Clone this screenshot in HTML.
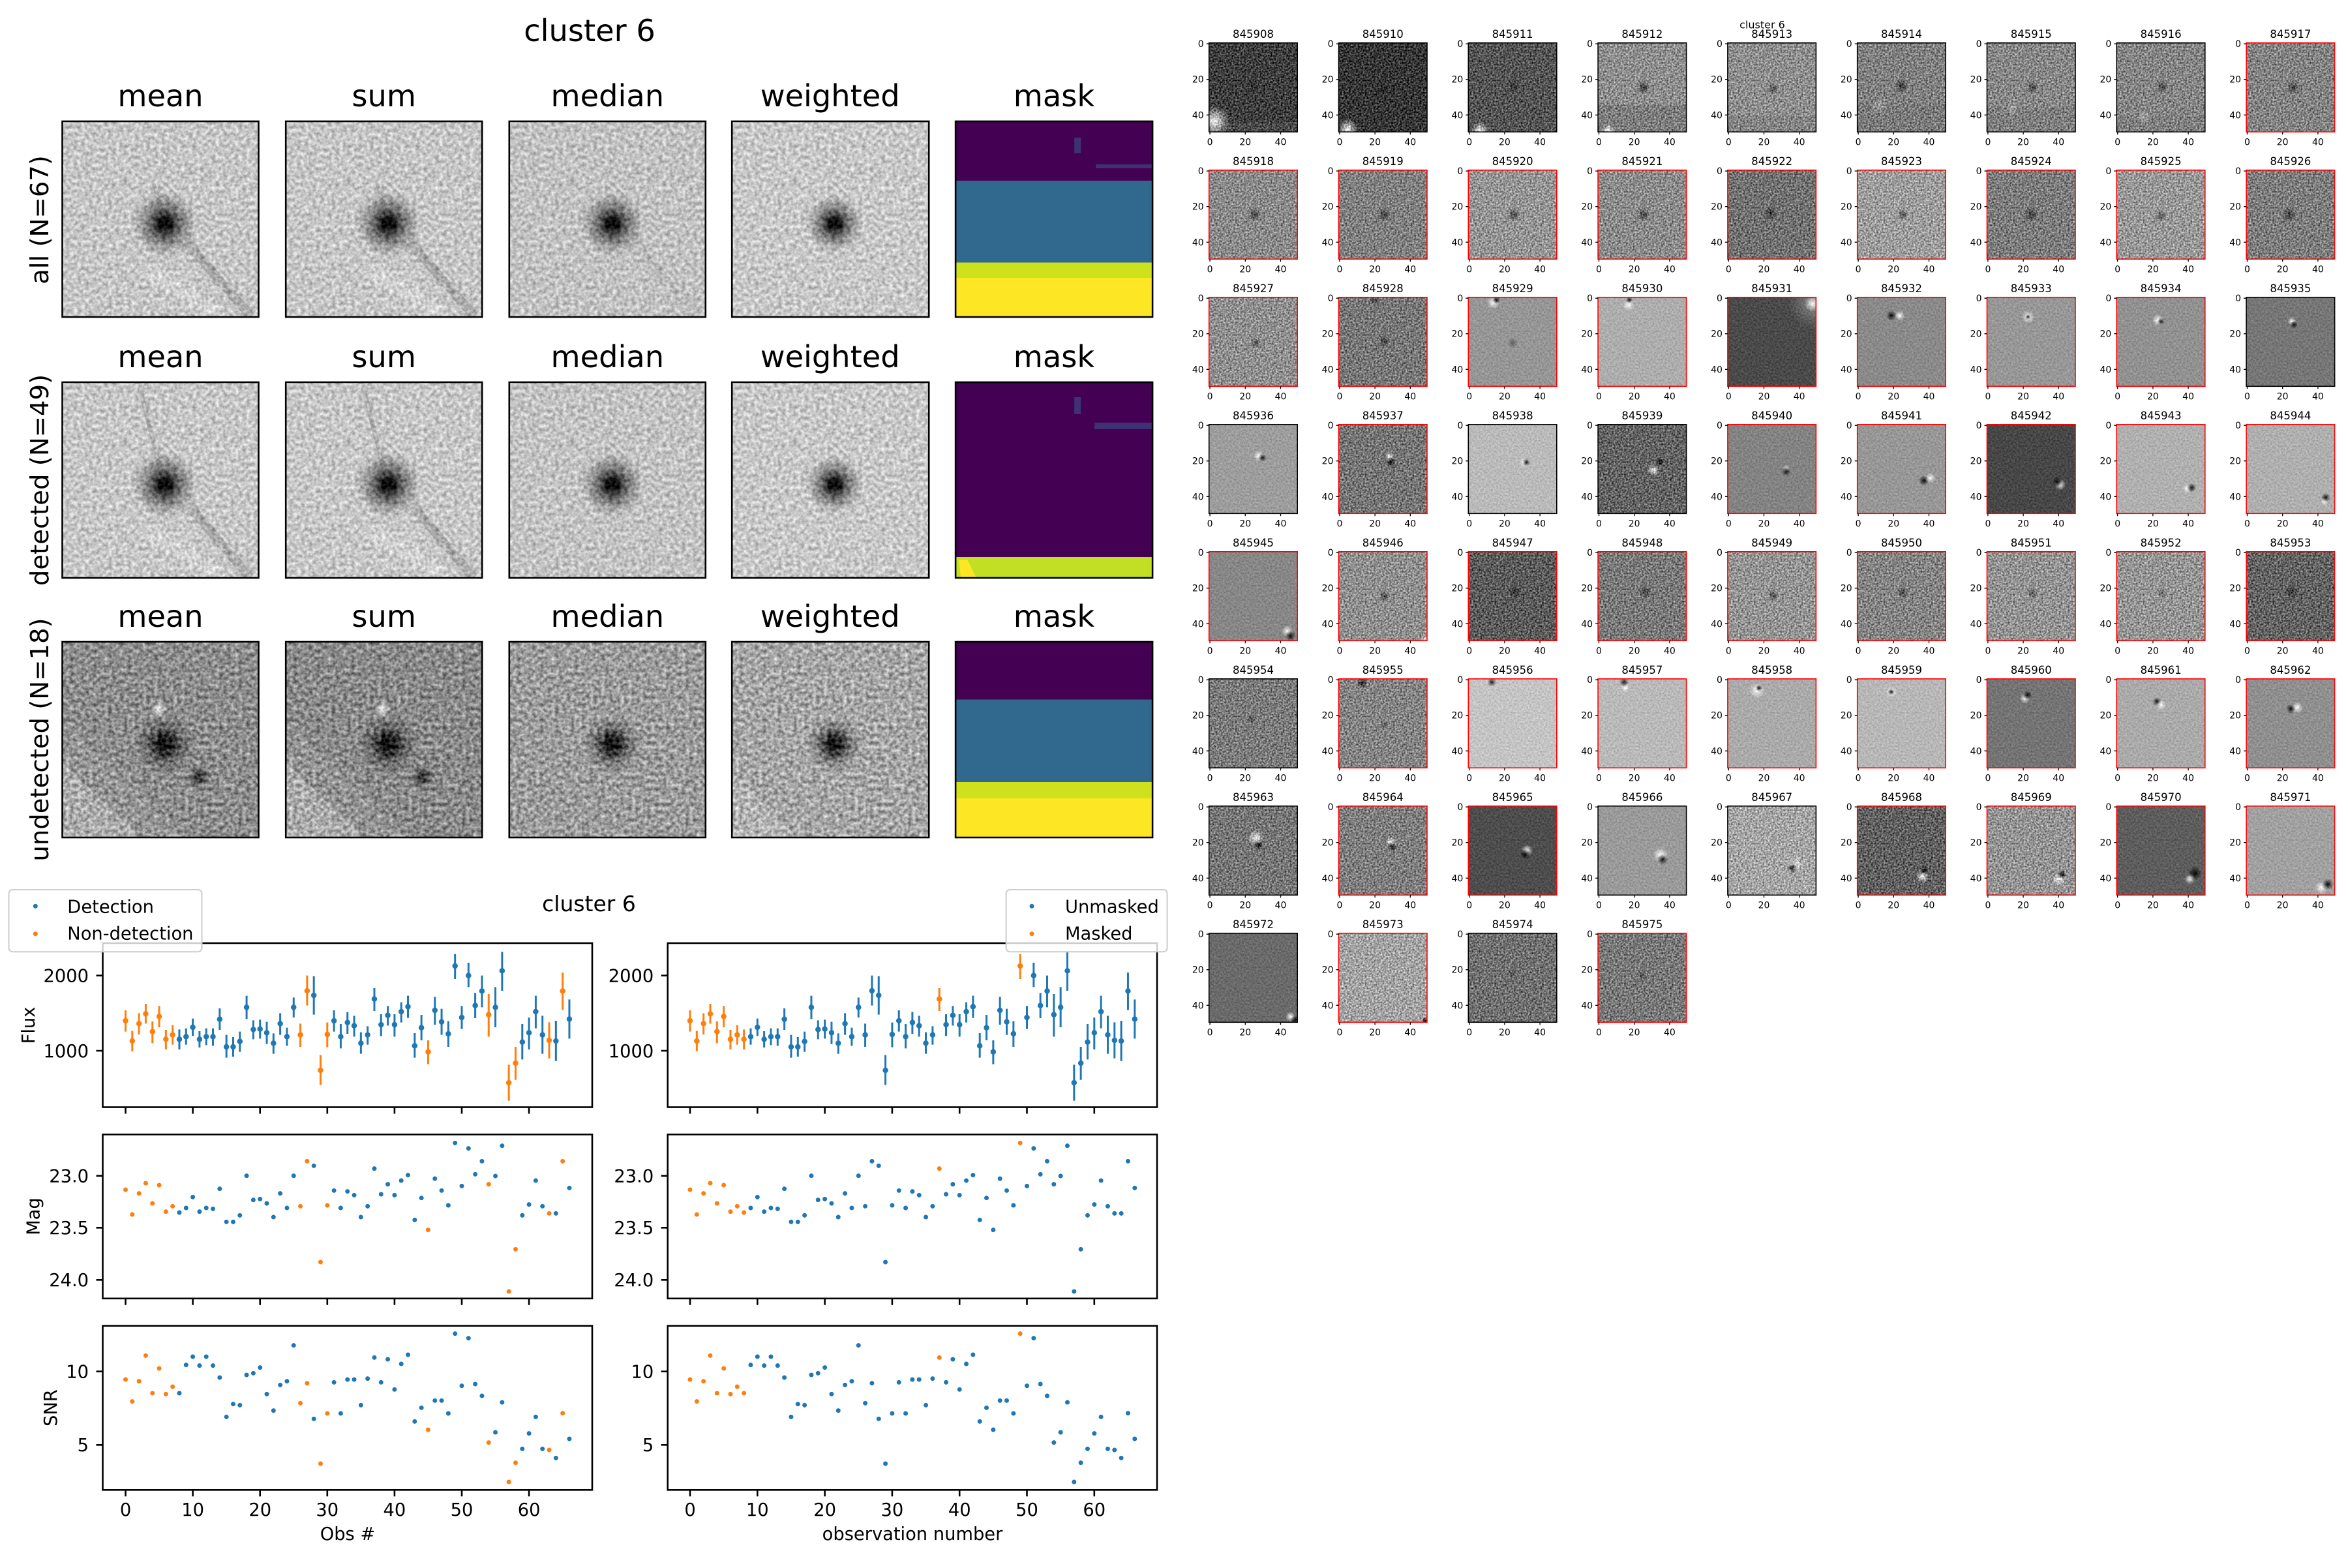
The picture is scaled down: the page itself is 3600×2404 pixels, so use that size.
<!DOCTYPE html>
<html><head><meta charset="utf-8"><style>
html,body{margin:0;padding:0;background:#fff}
svg{display:block}
text{font-family:"DejaVu Sans","Liberation Sans",sans-serif;fill:#000}
.tt{font-size:16.5px;text-anchor:middle}
.yt{font-size:14px;text-anchor:end}
.xt{font-size:14px;text-anchor:middle}
.bk{fill:none;stroke:#000;stroke-width:1.6}
.rd{fill:none;stroke:#f00;stroke-width:1.6}
.tk{stroke:#000;stroke-width:1.3;fill:none}
.bb{fill:none;stroke:#000;stroke-width:2.6}
.T{font-size:46.3px;text-anchor:middle}
.R{font-size:38.6px;text-anchor:middle}
.s{font-size:27.3px}
.sm{font-size:27.3px;text-anchor:middle}
.se{font-size:27.3px;text-anchor:end}
.ax{fill:none;stroke:#000;stroke-width:2.6}
.d{fill:url(#dk)}
.l{fill:url(#lt)}
</style></head><body>
<svg width="3600" height="2404" viewBox="0 0 3600 2404" xmlns="http://www.w3.org/2000/svg">
<defs>
<radialGradient id="dk"><stop offset="0" stop-color="#000" stop-opacity=".95"/><stop offset=".5" stop-color="#000" stop-opacity=".45"/><stop offset="1" stop-color="#000" stop-opacity="0"/></radialGradient>
<radialGradient id="lt"><stop offset="0" stop-color="#fff" stop-opacity=".95"/><stop offset=".5" stop-color="#fff" stop-opacity=".45"/><stop offset="1" stop-color="#fff" stop-opacity="0"/></radialGradient>
<radialGradient id="blob"><stop offset="0" stop-color="#000"/><stop offset=".2" stop-color="#080808" stop-opacity=".9"/><stop offset=".5" stop-color="#222" stop-opacity=".5"/><stop offset="1" stop-color="#444" stop-opacity="0"/></radialGradient>
<filter id="nB" filterUnits="userSpaceOnUse" x="0" y="0" width="302" height="300" color-interpolation-filters="sRGB">
<feTurbulence type="fractalNoise" baseFrequency="0.17" numOctaves="2" seed="5" result="t"/>
<feColorMatrix in="t" type="matrix" values="1 0 0 0 0 1 0 0 0 0 1 0 0 0 0 0 0 0 0 1" result="g"/>
<feComposite in="SourceGraphic" in2="g" operator="arithmetic" k1="0" k2="1" k3="0.55" k4="-0.275"/>
</filter>
<filter id="nB2" filterUnits="userSpaceOnUse" x="0" y="0" width="302" height="300" color-interpolation-filters="sRGB">
<feTurbulence type="fractalNoise" baseFrequency="0.17" numOctaves="2" seed="11" result="t"/>
<feColorMatrix in="t" type="matrix" values="1 0 0 0 0 1 0 0 0 0 1 0 0 0 0 0 0 0 0 1" result="g"/>
<feComposite in="SourceGraphic" in2="g" operator="arithmetic" k1="0" k2="1" k3="0.75" k4="-0.375"/>
</filter>
<filter id="nS" filterUnits="userSpaceOnUse" x="0" y="0" width="135.5" height="136.5" color-interpolation-filters="sRGB">
<feTurbulence type="fractalNoise" baseFrequency="0.37" numOctaves="2" seed="2" result="t"/>
<feColorMatrix in="t" type="matrix" values="1 0 0 0 0 1 0 0 0 0 1 0 0 0 0 0 0 0 0 1" result="g"/>
<feComposite in="SourceGraphic" in2="g" operator="arithmetic" k1="0" k2="1" k3="0.9" k4="-0.45"/>
</filter>
<filter id="nW" filterUnits="userSpaceOnUse" x="0" y="0" width="135.5" height="136.5" color-interpolation-filters="sRGB">
<feTurbulence type="fractalNoise" baseFrequency="0.37" numOctaves="2" seed="7" result="t"/>
<feColorMatrix in="t" type="matrix" values="1 0 0 0 0 1 0 0 0 0 1 0 0 0 0 0 0 0 0 1" result="g"/>
<feComposite in="SourceGraphic" in2="g" operator="arithmetic" k1="0" k2="1" k3="0.3" k4="-0.15"/>
</filter>
<path id="tks" class="tk" d="M0 1.4h-4M0 55.9h-4M0 110.5h-4M1.4 136.5v4M55.6 136.5v4M109.8 136.5v4"/>
</defs>
<rect width="3600" height="2404" fill="#fff"/>

<!-- ===== top-left stacked images ===== -->
<text class="T" x="904" y="63">cluster 6</text>

<text class="T" x="246" y="163">mean</text>
<text class="T" x="588.7" y="163">sum</text>
<text class="T" x="931.3" y="163">median</text>
<text class="T" x="1272.7" y="163">weighted</text>
<text class="T" x="1616" y="163">mask</text>
<text class="T" x="246" y="563">mean</text>
<text class="T" x="588.7" y="563">sum</text>
<text class="T" x="931.3" y="563">median</text>
<text class="T" x="1272.7" y="563">weighted</text>
<text class="T" x="1616" y="563">mask</text>
<text class="T" x="246" y="961">mean</text>
<text class="T" x="588.7" y="961">sum</text>
<text class="T" x="931.3" y="961">median</text>
<text class="T" x="1272.7" y="961">weighted</text>
<text class="T" x="1616" y="961">mask</text>

<text class="R" transform="translate(74,337) rotate(-90)">all (N=67)</text>
<text class="R" transform="translate(74,736) rotate(-90)">detected (N=49)</text>
<text class="R" transform="translate(74,1134) rotate(-90)">undetected (N=18)</text>

<!-- row 1 -->
<g transform="translate(95.5,186)"><g filter="url(#nB)"><rect width="301" height="300" fill="#c6c6c6"/><path d="M190 185L290 300" stroke="#8c8c8c" stroke-width="14" opacity=".5"/><path d="M128 228L245 300" stroke="#e6e6e6" stroke-width="22" opacity=".35"/><path d="M140 95L156 150" stroke="#888" stroke-width="6" opacity=".45"/><circle cx="157" cy="157" r="50" fill="url(#blob)"/></g><rect class="bb" width="301" height="300"/></g>
<g transform="translate(438.2,186)"><g filter="url(#nB)"><rect width="301" height="300" fill="#c6c6c6"/><path d="M190 185L290 300" stroke="#8c8c8c" stroke-width="14" opacity=".5"/><path d="M128 228L245 300" stroke="#e6e6e6" stroke-width="22" opacity=".35"/><path d="M140 95L156 150" stroke="#888" stroke-width="6" opacity=".45"/><circle cx="157" cy="157" r="50" fill="url(#blob)"/></g><rect class="bb" width="301" height="300"/></g>
<g transform="translate(780.8,186)"><g filter="url(#nB)"><rect width="301" height="300" fill="#c2c2c2"/><path d="M190 185L290 300" stroke="#8c8c8c" stroke-width="14" opacity=".15"/><circle cx="158" cy="157" r="48" fill="url(#blob)"/></g><rect class="bb" width="301" height="300"/></g>
<g transform="translate(1122.2,186)"><g filter="url(#nB)"><rect width="302" height="300" fill="#c8c8c8"/><circle cx="157" cy="157" r="44" fill="url(#blob)"/></g><rect class="bb" width="302" height="300"/></g>
<g transform="translate(1465.1,186)"><rect width="302" height="91" fill="#440154"/><rect y="91" width="302" height="125.5" fill="#31688e"/><rect y="216.5" width="302" height="23.5" fill="#cde11d"/><rect y="240" width="302" height="60" fill="#fde725"/><rect x="182" y="25" width="10" height="24" fill="#3b528b" opacity=".6"/><rect x="215" y="66" width="87" height="6" fill="#3b528b" opacity=".6"/><rect class="bb" width="302" height="300"/></g>

<!-- row 2 -->
<g transform="translate(95.5,586)"><g filter="url(#nB)"><rect width="301" height="300" fill="#c7c7c7"/><path d="M195 190L288 300" stroke="#8c8c8c" stroke-width="14" opacity=".5"/><path d="M128 228L248 300" stroke="#e6e6e6" stroke-width="22" opacity=".35"/><path d="M118 5L152 140" stroke="#888" stroke-width="7" opacity=".4"/><circle cx="157" cy="157" r="50" fill="url(#blob)"/></g><rect class="bb" width="301" height="300"/></g>
<g transform="translate(438.2,586)"><g filter="url(#nB)"><rect width="301" height="300" fill="#c7c7c7"/><path d="M195 190L288 300" stroke="#8c8c8c" stroke-width="14" opacity=".5"/><path d="M128 228L248 300" stroke="#e6e6e6" stroke-width="22" opacity=".35"/><path d="M118 5L152 140" stroke="#888" stroke-width="7" opacity=".4"/><circle cx="157" cy="157" r="50" fill="url(#blob)"/></g><rect class="bb" width="301" height="300"/></g>
<g transform="translate(780.8,586)"><g filter="url(#nB)"><rect width="301" height="300" fill="#c3c3c3"/><circle cx="158" cy="157" r="48" fill="url(#blob)"/></g><rect class="bb" width="301" height="300"/></g>
<g transform="translate(1122.2,586)"><g filter="url(#nB)"><rect width="302" height="300" fill="#c8c8c8"/><circle cx="157" cy="157" r="44" fill="url(#blob)"/></g><rect class="bb" width="302" height="300"/></g>
<g transform="translate(1465.1,586)"><rect width="302" height="268" fill="#440154"/><rect y="268" width="302" height="32" fill="#c2df23"/><path d="M5 272L18 272L32 300L8 300Z" fill="#fde725"/><rect x="182" y="23" width="10" height="26" fill="#3b528b" opacity=".6"/><rect x="213" y="62" width="89" height="10" fill="#3b528b" opacity=".6"/><rect class="bb" width="302" height="300"/></g>

<!-- row 3 -->
<g transform="translate(95.5,984)"><g filter="url(#nB2)"><rect width="301" height="300" fill="#8d8d8d"/><path d="M0 185L120 300L0 300Z" fill="#cccccc" opacity=".45"/><path d="M0 120L190 300L0 300Z" fill="#bbb" opacity=".2"/><circle cx="148" cy="103" r="12" class="l"/><circle cx="157" cy="157" r="46" fill="url(#blob)"/><circle cx="210" cy="207" r="20" fill="url(#blob)" opacity=".8"/></g><rect class="bb" width="301" height="300"/></g>
<g transform="translate(438.2,984)"><g filter="url(#nB2)"><rect width="301" height="300" fill="#8a8a8a"/><path d="M0 185L120 300L0 300Z" fill="#cccccc" opacity=".45"/><path d="M0 120L190 300L0 300Z" fill="#bbb" opacity=".2"/><circle cx="148" cy="103" r="12" class="l"/><circle cx="157" cy="157" r="46" fill="url(#blob)"/><circle cx="210" cy="207" r="20" fill="url(#blob)" opacity=".8"/></g><rect class="bb" width="301" height="300"/></g>
<g transform="translate(780.8,984)"><g filter="url(#nB2)"><rect width="301" height="300" fill="#9c9c9c"/><circle cx="158" cy="157" r="44" fill="url(#blob)"/></g><rect class="bb" width="301" height="300"/></g>
<g transform="translate(1122.2,984)"><g filter="url(#nB2)"><rect width="302" height="300" fill="#a6a6a6"/><path d="M0 200L100 300L0 300Z" fill="#d0d0d0" opacity=".3"/><circle cx="157" cy="157" r="42" fill="url(#blob)"/></g><rect class="bb" width="302" height="300"/></g>
<g transform="translate(1465.1,984)"><rect width="302" height="88.5" fill="#440154"/><rect y="88.5" width="302" height="126.5" fill="#31688e"/><rect y="215" width="302" height="25" fill="#cde11d"/><rect y="240" width="302" height="60" fill="#fde725"/><rect class="bb" width="302" height="300"/></g>

<!-- ===== bottom-left light curves ===== -->
<text x="903" y="1397" style="font-size:33px;text-anchor:middle">cluster 6</text>

<rect class="ax" x="157.5" y="1446" width="750.5" height="251.5"/>
<rect class="ax" x="157.5" y="1739.3" width="750.5" height="251.5"/>
<rect class="ax" x="157.5" y="2032.7" width="750.5" height="251.6"/>
<rect class="ax" x="1023.7" y="1446" width="750.3" height="251.5"/>
<rect class="ax" x="1023.7" y="1739.3" width="750.3" height="251.5"/>
<rect class="ax" x="1023.7" y="2032.7" width="750.3" height="251.6"/>

<path class="ax" d="M157.5 1495.7h-10M157.5 1611h-10M157.5 1802.7h-10M157.5 1882.3h-10M157.5 1962.3h-10M157.5 2102.7h-10M157.5 2215.3h-10M1023.7 1495.7h-10M1023.7 1611h-10M1023.7 1802.7h-10M1023.7 1882.3h-10M1023.7 1962.3h-10M1023.7 2102.7h-10M1023.7 2215.3h-10"/>
<path class="ax" d="M192.5 1697.5v10M295.6 1697.5v10M398.7 1697.5v10M501.8 1697.5v10M604.9 1697.5v10M708 1697.5v10M811.1 1697.5v10M192.5 1990.8v10M295.6 1990.8v10M398.7 1990.8v10M501.8 1990.8v10M604.9 1990.8v10M708 1990.8v10M811.1 1990.8v10M192.5 2284.3v10M295.6 2284.3v10M398.7 2284.3v10M501.8 2284.3v10M604.9 2284.3v10M708 2284.3v10M811.1 2284.3v10"/>
<path class="ax" d="M1058 1697.5v10M1161.3 1697.5v10M1264.6 1697.5v10M1367.9 1697.5v10M1471.2 1697.5v10M1574.5 1697.5v10M1677.8 1697.5v10M1058 1990.8v10M1161.3 1990.8v10M1264.6 1990.8v10M1367.9 1990.8v10M1471.2 1990.8v10M1574.5 1990.8v10M1677.8 1990.8v10M1058 2284.3v10M1161.3 2284.3v10M1264.6 2284.3v10M1367.9 2284.3v10M1471.2 2284.3v10M1574.5 2284.3v10M1677.8 2284.3v10"/>

<text class="se" x="136" y="1505.5">2000</text><text class="se" x="136" y="1620.8">1000</text>
<text class="se" x="136" y="1812.5">23.0</text><text class="se" x="136" y="1892.1">23.5</text><text class="se" x="136" y="1972.1">24.0</text>
<text class="se" x="136" y="2112.5">10</text><text class="se" x="136" y="2225.1">5</text>
<text class="se" x="1002.2" y="1505.5">2000</text><text class="se" x="1002.2" y="1620.8">1000</text>
<text class="se" x="1002.2" y="1812.5">23.0</text><text class="se" x="1002.2" y="1892.1">23.5</text><text class="se" x="1002.2" y="1972.1">24.0</text>
<text class="se" x="1002.2" y="2112.5">10</text><text class="se" x="1002.2" y="2225.1">5</text>

<text class="sm" x="192.5" y="2324">0</text><text class="sm" x="295.6" y="2324">10</text><text class="sm" x="398.7" y="2324">20</text><text class="sm" x="501.8" y="2324">30</text><text class="sm" x="604.9" y="2324">40</text><text class="sm" x="708" y="2324">50</text><text class="sm" x="811.1" y="2324">60</text>
<text class="sm" x="1058" y="2324">0</text><text class="sm" x="1161.3" y="2324">10</text><text class="sm" x="1264.6" y="2324">20</text><text class="sm" x="1367.9" y="2324">30</text><text class="sm" x="1471.2" y="2324">40</text><text class="sm" x="1574.5" y="2324">50</text><text class="sm" x="1677.8" y="2324">60</text>
<text class="sm" x="533" y="2361">Obs #</text>
<text class="sm" x="1399" y="2361">observation number</text>
<text class="sm" transform="translate(53,1572) rotate(-90)">Flux</text>
<text class="sm" transform="translate(60.5,1865) rotate(-90)">Mag</text>
<text class="sm" transform="translate(87,2158.5) rotate(-90)">SNR</text>

<!-- Left flux -->
<g transform="matrix(10.31 0 0 0.333333 192.5 1430)" fill="none">
<path vector-effect="non-scaling-stroke" stroke="#ff7f0e" stroke-width="3" d="M0 357V455M1 452V545M2 370V468M3 327V418M4 408V508M5 337V435M6 447V537M7 425V515M26 418V525M27 197V335M29 563V700M30 413V527M45 495V605M54 282V478M57 607V773M58 525V677M63 412V578M65 183V355"/>
<path vector-effect="non-scaling-stroke" stroke="#1f77b4" stroke-width="3" d="M8 445V537M9 440V515M10 395V475M11 453V528M12 440V517M13 440V520M14 348V447M15 470V575M16 480V570M17 455V548M18 290V397M19 403V490M20 400V487M21 410V512M22 463V557M23 370V470M24 437V520M25 298V390M28 200V377M31 357V455M32 420V532M33 365V465M34 382V478M35 458V557M36 430V515M37 255V360M38 375V475M39 337V427M40 375V478M41 320V413M42 290V392M43 462V575M44 378V495M46 295V423M47 350V470M48 407V525M49 98V213M50 337V443M51 138V250M52 277V393M53 197V343M55 250V435M56 88V267M59 420V583M60 390V537M61 290V440M62 382V557M64 405V590M66 307V487"/>
<path vector-effect="non-scaling-stroke" stroke="#ff7f0e" stroke-width="8.5" stroke-linecap="round" d="M0 405h0M1 498h0M2 418h0M3 373h0M4 455h0M5 385h0M6 490h0M7 470h0M26 470h0M27 267h0M29 633h0M30 468h0M45 548h0M54 377h0M57 690h0M58 600h0M63 495h0M65 268h0"/>
<path vector-effect="non-scaling-stroke" stroke="#1f77b4" stroke-width="8.5" stroke-linecap="round" d="M8 490h0M9 478h0M10 435h0M11 490h0M12 478h0M13 478h0M14 398h0M15 525h0M16 525h0M17 500h0M18 343h0M19 445h0M20 443h0M21 460h0M22 508h0M23 418h0M24 478h0M25 343h0M28 288h0M31 405h0M32 478h0M33 413h0M34 428h0M35 508h0M36 470h0M37 305h0M38 423h0M39 380h0M40 423h0M41 363h0M42 340h0M43 520h0M44 437h0M46 357h0M47 410h0M48 465h0M49 153h0M50 390h0M51 197h0M52 335h0M53 268h0M55 343h0M56 175h0M59 503h0M60 460h0M61 363h0M62 470h0M64 498h0M66 397h0"/>
</g>
<!-- Right flux -->
<g transform="matrix(10.33 0 0 0.333333 1058 1430)" fill="none">
<path vector-effect="non-scaling-stroke" stroke="#ff7f0e" stroke-width="3" d="M0 357V455M1 452V545M2 370V468M3 327V418M4 408V508M5 337V435M6 447V537M7 425V515M8 445V537M37 255V360M49 98V213"/>
<path vector-effect="non-scaling-stroke" stroke="#1f77b4" stroke-width="3" d="M9 440V515M10 395V475M11 453V528M12 440V517M13 440V520M14 348V447M15 470V575M16 480V570M17 455V548M18 290V397M19 403V490M20 400V487M21 410V512M22 463V557M23 370V470M24 437V520M25 298V390M26 418V525M27 197V335M28 200V377M29 563V700M30 413V527M31 357V455M32 420V532M33 365V465M34 382V478M35 458V557M36 430V515M38 375V475M39 337V427M40 375V478M41 320V413M42 290V392M43 462V575M44 378V495M45 495V605M46 295V423M47 350V470M48 407V525M50 337V443M51 138V250M52 277V393M53 197V343M54 282V478M55 250V435M56 88V267M57 607V773M58 525V677M59 420V583M60 390V537M61 290V440M62 382V557M63 412V578M64 405V590M65 183V355M66 307V487"/>
<path vector-effect="non-scaling-stroke" stroke="#ff7f0e" stroke-width="8.5" stroke-linecap="round" d="M0 405h0M1 498h0M2 418h0M3 373h0M4 455h0M5 385h0M6 490h0M7 470h0M8 490h0M37 305h0M49 153h0"/>
<path vector-effect="non-scaling-stroke" stroke="#1f77b4" stroke-width="8.5" stroke-linecap="round" d="M9 478h0M10 435h0M11 490h0M12 478h0M13 478h0M14 398h0M15 525h0M16 525h0M17 500h0M18 343h0M19 445h0M20 443h0M21 460h0M22 508h0M23 418h0M24 478h0M25 343h0M26 470h0M27 267h0M28 288h0M29 633h0M30 468h0M31 405h0M32 478h0M33 413h0M34 428h0M35 508h0M36 470h0M38 423h0M39 380h0M40 423h0M41 363h0M42 340h0M43 520h0M44 437h0M45 548h0M46 357h0M47 410h0M48 465h0M50 390h0M51 197h0M52 335h0M53 268h0M54 377h0M55 343h0M56 175h0M57 690h0M58 600h0M59 503h0M60 460h0M61 363h0M62 470h0M63 495h0M64 498h0M65 268h0M66 397h0"/>
</g>
<!-- Left mag -->
<g transform="matrix(10.31 0 0 0.333333 192.5 1725)" fill="none">
<path vector-effect="non-scaling-stroke" stroke="#ff7f0e" stroke-width="7" stroke-linecap="round" d="M0 297h0M1 411h0M2 314h0M3 267h0M4 360h0M5 276h0M6 398h0M7 373h0M26 373h0M27 166h0M29 630h0M30 369h0M45 482h0M54 272h0M57 765h0M58 571h0M63 406h0M65 166h0"/>
<path vector-effect="non-scaling-stroke" stroke="#1f77b4" stroke-width="7" stroke-linecap="round" d="M8 402h0M9 381h0M10 331h0M11 398h0M12 381h0M13 385h0M14 293h0M15 445h0M16 445h0M17 415h0M18 233h0M19 344h0M20 340h0M21 360h0M22 423h0M23 314h0M24 381h0M25 233h0M28 187h0M31 301h0M32 381h0M33 305h0M34 322h0M35 423h0M36 373h0M37 200h0M38 318h0M39 272h0M40 322h0M41 255h0M42 230h0M43 436h0M44 335h0M46 246h0M47 301h0M48 369h0M49 82h0M50 280h0M51 107h0M52 226h0M53 166h0M55 234h0M56 95h0M59 415h0M60 365h0M61 255h0M62 373h0M64 406h0M66 289h0"/>
</g>
<!-- Right mag -->
<g transform="matrix(10.33 0 0 0.333333 1058 1725)" fill="none">
<path vector-effect="non-scaling-stroke" stroke="#ff7f0e" stroke-width="7" stroke-linecap="round" d="M0 297h0M1 411h0M2 314h0M3 267h0M4 360h0M5 276h0M6 398h0M7 373h0M8 402h0M37 200h0M49 82h0"/>
<path vector-effect="non-scaling-stroke" stroke="#1f77b4" stroke-width="7" stroke-linecap="round" d="M9 381h0M10 331h0M11 398h0M12 381h0M13 385h0M14 293h0M15 445h0M16 445h0M17 415h0M18 233h0M19 344h0M20 340h0M21 360h0M22 423h0M23 314h0M24 381h0M25 233h0M26 373h0M27 166h0M28 187h0M29 630h0M30 369h0M31 301h0M32 381h0M33 305h0M34 322h0M35 423h0M36 373h0M38 318h0M39 272h0M40 322h0M41 255h0M42 230h0M43 436h0M44 335h0M45 482h0M46 246h0M47 301h0M48 369h0M50 280h0M51 107h0M52 226h0M53 166h0M54 272h0M55 234h0M56 95h0M57 765h0M58 571h0M59 415h0M60 365h0M61 255h0M62 373h0M63 406h0M64 406h0M65 166h0M66 289h0"/>
</g>
<!-- Left SNR -->
<g transform="matrix(10.31 0 0 0.333333 192.5 2020)" fill="none">
<path vector-effect="non-scaling-stroke" stroke="#ff7f0e" stroke-width="7" stroke-linecap="round" d="M0 285h0M1 386h0M2 293h0M3 175h0M4 348h0M5 234h0M6 352h0M7 318h0M26 394h0M27 302h0M29 672h0M30 441h0M45 516h0M54 575h0M57 756h0M58 668h0M63 609h0M65 440h0"/>
<path vector-effect="non-scaling-stroke" stroke="#1f77b4" stroke-width="7" stroke-linecap="round" d="M8 348h0M9 218h0M10 180h0M11 221h0M12 180h0M13 221h0M14 276h0M15 457h0M16 398h0M17 403h0M18 264h0M19 256h0M20 230h0M21 352h0M22 428h0M23 310h0M24 293h0M25 128h0M28 466h0M31 298h0M32 441h0M33 285h0M34 285h0M35 403h0M36 281h0M37 184h0M38 298h0M39 192h0M40 331h0M41 213h0M42 171h0M43 478h0M44 415h0M46 382h0M47 382h0M48 441h0M49 74h0M50 314h0M51 95h0M52 306h0M53 360h0M55 528h0M56 390h0M59 604h0M60 533h0M61 457h0M62 604h0M64 646h0M66 558h0"/>
</g>
<!-- Right SNR -->
<g transform="matrix(10.33 0 0 0.333333 1058 2020)" fill="none">
<path vector-effect="non-scaling-stroke" stroke="#ff7f0e" stroke-width="7" stroke-linecap="round" d="M0 285h0M1 386h0M2 293h0M3 175h0M4 348h0M5 234h0M6 352h0M7 318h0M8 348h0M37 184h0M49 74h0"/>
<path vector-effect="non-scaling-stroke" stroke="#1f77b4" stroke-width="7" stroke-linecap="round" d="M9 218h0M10 180h0M11 221h0M12 180h0M13 221h0M14 276h0M15 457h0M16 398h0M17 403h0M18 264h0M19 256h0M20 230h0M21 352h0M22 428h0M23 310h0M24 293h0M25 128h0M26 394h0M27 302h0M28 466h0M29 672h0M30 441h0M31 298h0M32 441h0M33 285h0M34 285h0M35 403h0M36 281h0M38 298h0M39 192h0M40 331h0M41 213h0M42 171h0M43 478h0M44 415h0M45 516h0M46 382h0M47 382h0M48 441h0M50 314h0M51 95h0M52 306h0M53 360h0M54 575h0M55 528h0M56 390h0M57 756h0M58 668h0M59 604h0M60 533h0M61 457h0M62 604h0M63 609h0M64 646h0M65 440h0M66 558h0"/>
</g>

<!-- legends -->
<rect x="13.5" y="1364" width="296" height="95.3" rx="6" fill="#fff" fill-opacity=".8" stroke="#cccccc" stroke-width="2"/>
<circle cx="54.3" cy="1389.3" r="3.5" fill="#1f77b4"/>
<circle cx="54.3" cy="1431.7" r="3.5" fill="#ff7f0e"/>
<text class="s" x="103.3" y="1399.3">Detection</text>
<text class="s" x="103.3" y="1440.7">Non-detection</text>
<rect x="1542.6" y="1364" width="247" height="95.3" rx="6" fill="#fff" fill-opacity=".8" stroke="#cccccc" stroke-width="2"/>
<circle cx="1582" cy="1389.3" r="3.5" fill="#1f77b4"/>
<circle cx="1582" cy="1431.7" r="3.5" fill="#ff7f0e"/>
<text class="s" x="1633" y="1399.3">Unmasked</text>
<text class="s" x="1633" y="1440.7">Masked</text>

<!-- ===== right thumbnail grid ===== -->
<text x="2702" y="43.5" style="font-size:16px;text-anchor:middle">cluster 6</text>

<!-- row 0 -->
<g transform="translate(1853.7,65.8)"><g filter="url(#nS)"><rect width="135.5" height="136.5" fill="#3e3e3e"/><rect y="122" width="135.5" height="14.5" fill="#4a4a4a"/><circle cx="8" cy="120" r="24" class="l"/><circle cx="68" cy="66" r="10" class="d" opacity=".4"/></g><rect class="bk" width="135.5" height="136.5"/><use href="#tks"/><text class="yt" x="-8" y="6.4">0</text><text class="yt" x="-8" y="60.9">20</text><text class="yt" x="-8" y="115.5">40</text><text class="xt" x="1.4" y="156.5">0</text><text class="xt" x="55.6" y="156.5">20</text><text class="xt" x="109.8" y="156.5">40</text><text class="tt" x="67.8" y="-8">845908</text></g>
<g transform="translate(2052.5,65.8)"><g filter="url(#nS)"><rect width="135.5" height="136.5" fill="#363636"/><circle cx="14" cy="132" r="16" class="l"/><circle cx="68" cy="70" r="10" class="d" opacity=".4"/></g><rect class="bk" width="135.5" height="136.5"/><use href="#tks"/><text class="yt" x="-8" y="6.4">0</text><text class="yt" x="-8" y="60.9">20</text><text class="yt" x="-8" y="115.5">40</text><text class="xt" x="1.4" y="156.5">0</text><text class="xt" x="55.6" y="156.5">20</text><text class="xt" x="109.8" y="156.5">40</text><text class="tt" x="67.8" y="-8">845910</text></g>
<g transform="translate(2251.3,65.8)"><g filter="url(#nS)"><rect width="135.5" height="136.5" fill="#545454"/><circle cx="18" cy="134" r="13" class="l"/><circle cx="70" cy="66" r="10" class="d" opacity=".5"/></g><rect class="bk" width="135.5" height="136.5"/><use href="#tks"/><text class="yt" x="-8" y="6.4">0</text><text class="yt" x="-8" y="60.9">20</text><text class="yt" x="-8" y="115.5">40</text><text class="xt" x="1.4" y="156.5">0</text><text class="xt" x="55.6" y="156.5">20</text><text class="xt" x="109.8" y="156.5">40</text><text class="tt" x="67.8" y="-8">845911</text></g>
<g transform="translate(2450.1,65.8)"><g filter="url(#nS)"><rect width="135.5" height="136.5" fill="#8e8e8e"/><rect y="95" width="135.5" height="41.5" fill="#7d7d7d"/><circle cx="16" cy="134" r="10" class="l"/><circle cx="70" cy="68" r="11" class="d" opacity=".7"/></g><rect class="bk" width="135.5" height="136.5"/><use href="#tks"/><text class="yt" x="-8" y="6.4">0</text><text class="yt" x="-8" y="60.9">20</text><text class="yt" x="-8" y="115.5">40</text><text class="xt" x="1.4" y="156.5">0</text><text class="xt" x="55.6" y="156.5">20</text><text class="xt" x="109.8" y="156.5">40</text><text class="tt" x="67.8" y="-8">845912</text></g>
<g transform="translate(2648.9,65.8)"><g filter="url(#nS)"><rect width="135.5" height="136.5" fill="#8e8e8e"/><rect y="112" width="135.5" height="24.5" fill="#848484"/><circle cx="70" cy="70" r="10" class="d" opacity=".5"/></g><rect class="bk" width="135.5" height="136.5"/><use href="#tks"/><text class="yt" x="-8" y="6.4">0</text><text class="yt" x="-8" y="60.9">20</text><text class="yt" x="-8" y="115.5">40</text><text class="xt" x="1.4" y="156.5">0</text><text class="xt" x="55.6" y="156.5">20</text><text class="xt" x="109.8" y="156.5">40</text><text class="tt" x="67.8" y="-8">845913</text></g>
<g transform="translate(2847.7,65.8)"><g filter="url(#nS)"><rect width="135.5" height="136.5" fill="#808080"/><rect y="94" width="135.5" height="42.5" fill="#7a7a7a"/><circle cx="33" cy="97" r="12" class="l" opacity=".35"/><circle cx="68" cy="66" r="11" class="d" opacity=".7"/></g><rect class="bk" width="135.5" height="136.5"/><use href="#tks"/><text class="yt" x="-8" y="6.4">0</text><text class="yt" x="-8" y="60.9">20</text><text class="yt" x="-8" y="115.5">40</text><text class="xt" x="1.4" y="156.5">0</text><text class="xt" x="55.6" y="156.5">20</text><text class="xt" x="109.8" y="156.5">40</text><text class="tt" x="67.8" y="-8">845914</text></g>
<g transform="translate(3046.5,65.8)"><g filter="url(#nS)"><rect width="135.5" height="136.5" fill="#878787"/><rect y="99" width="135.5" height="37.5" fill="#7e7e7e"/><circle cx="38" cy="101" r="10" class="l" opacity=".35"/><circle cx="70" cy="68" r="10" class="d" opacity=".6"/></g><rect class="bk" width="135.5" height="136.5"/><use href="#tks"/><text class="yt" x="-8" y="6.4">0</text><text class="yt" x="-8" y="60.9">20</text><text class="yt" x="-8" y="115.5">40</text><text class="xt" x="1.4" y="156.5">0</text><text class="xt" x="55.6" y="156.5">20</text><text class="xt" x="109.8" y="156.5">40</text><text class="tt" x="67.8" y="-8">845915</text></g>
<g transform="translate(3245.3,65.8)"><g filter="url(#nS)"><rect width="135.5" height="136.5" fill="#858585"/><rect y="112" width="135.5" height="24.5" fill="#7f7f7f"/><circle cx="42" cy="114" r="10" class="l" opacity=".35"/><circle cx="70" cy="67" r="10" class="d" opacity=".6"/></g><rect class="bk" width="135.5" height="136.5"/><use href="#tks"/><text class="yt" x="-8" y="6.4">0</text><text class="yt" x="-8" y="60.9">20</text><text class="yt" x="-8" y="115.5">40</text><text class="xt" x="1.4" y="156.5">0</text><text class="xt" x="55.6" y="156.5">20</text><text class="xt" x="109.8" y="156.5">40</text><text class="tt" x="67.8" y="-8">845916</text></g>
<g transform="translate(3444.1,65.8)"><g filter="url(#nS)"><rect width="135.5" height="136.5" fill="#838383"/><circle cx="72" cy="68" r="11" class="d" opacity=".6"/></g><rect class="rd" width="135.5" height="136.5"/><use href="#tks"/><text class="yt" x="-8" y="6.4">0</text><text class="yt" x="-8" y="60.9">20</text><text class="yt" x="-8" y="115.5">40</text><text class="xt" x="1.4" y="156.5">0</text><text class="xt" x="55.6" y="156.5">20</text><text class="xt" x="109.8" y="156.5">40</text><text class="tt" x="67.8" y="-8">845917</text></g>

<!-- row 1 -->
<g transform="translate(1853.7,260.8)"><g filter="url(#nS)"><rect width="135.5" height="136.5" fill="#8a8a8a"/><circle cx="70" cy="68" r="11" class="d" opacity=".6"/></g><rect class="rd" width="135.5" height="136.5"/><use href="#tks"/><text class="yt" x="-8" y="6.4">0</text><text class="yt" x="-8" y="60.9">20</text><text class="yt" x="-8" y="115.5">40</text><text class="xt" x="1.4" y="156.5">0</text><text class="xt" x="55.6" y="156.5">20</text><text class="xt" x="109.8" y="156.5">40</text><text class="tt" x="67.8" y="-8">845918</text></g>
<g transform="translate(2052.5,260.8)"><g filter="url(#nS)"><rect width="135.5" height="136.5" fill="#808080"/><circle cx="70" cy="68" r="11" class="d" opacity=".6"/></g><rect class="rd" width="135.5" height="136.5"/><use href="#tks"/><text class="yt" x="-8" y="6.4">0</text><text class="yt" x="-8" y="60.9">20</text><text class="yt" x="-8" y="115.5">40</text><text class="xt" x="1.4" y="156.5">0</text><text class="xt" x="55.6" y="156.5">20</text><text class="xt" x="109.8" y="156.5">40</text><text class="tt" x="67.8" y="-8">845919</text></g>
<g transform="translate(2251.3,260.8)"><g filter="url(#nS)"><rect width="135.5" height="136.5" fill="#959595"/><circle cx="70" cy="68" r="11" class="d" opacity=".6"/></g><rect class="rd" width="135.5" height="136.5"/><use href="#tks"/><text class="yt" x="-8" y="6.4">0</text><text class="yt" x="-8" y="60.9">20</text><text class="yt" x="-8" y="115.5">40</text><text class="xt" x="1.4" y="156.5">0</text><text class="xt" x="55.6" y="156.5">20</text><text class="xt" x="109.8" y="156.5">40</text><text class="tt" x="67.8" y="-8">845920</text></g>
<g transform="translate(2450.1,260.8)"><g filter="url(#nS)"><rect width="135.5" height="136.5" fill="#8b8b8b"/><circle cx="70" cy="68" r="11" class="d" opacity=".6"/></g><rect class="rd" width="135.5" height="136.5"/><use href="#tks"/><text class="yt" x="-8" y="6.4">0</text><text class="yt" x="-8" y="60.9">20</text><text class="yt" x="-8" y="115.5">40</text><text class="xt" x="1.4" y="156.5">0</text><text class="xt" x="55.6" y="156.5">20</text><text class="xt" x="109.8" y="156.5">40</text><text class="tt" x="67.8" y="-8">845921</text></g>
<g transform="translate(2648.9,260.8)"><g filter="url(#nS)"><rect width="135.5" height="136.5" fill="#717171"/><circle cx="66" cy="66" r="11" class="d" opacity=".6"/></g><rect class="rd" width="135.5" height="136.5"/><use href="#tks"/><text class="yt" x="-8" y="6.4">0</text><text class="yt" x="-8" y="60.9">20</text><text class="yt" x="-8" y="115.5">40</text><text class="xt" x="1.4" y="156.5">0</text><text class="xt" x="55.6" y="156.5">20</text><text class="xt" x="109.8" y="156.5">40</text><text class="tt" x="67.8" y="-8">845922</text></g>
<g transform="translate(2847.7,260.8)"><g filter="url(#nS)"><rect width="135.5" height="136.5" fill="#9d9d9d"/><circle cx="70" cy="68" r="9" class="d" opacity=".6"/></g><rect class="rd" width="135.5" height="136.5"/><use href="#tks"/><text class="yt" x="-8" y="6.4">0</text><text class="yt" x="-8" y="60.9">20</text><text class="yt" x="-8" y="115.5">40</text><text class="xt" x="1.4" y="156.5">0</text><text class="xt" x="55.6" y="156.5">20</text><text class="xt" x="109.8" y="156.5">40</text><text class="tt" x="67.8" y="-8">845923</text></g>
<g transform="translate(3046.5,260.8)"><g filter="url(#nS)"><rect width="135.5" height="136.5" fill="#7c7c7c"/><circle cx="68" cy="68" r="12" class="d" opacity=".6"/></g><rect class="rd" width="135.5" height="136.5"/><use href="#tks"/><text class="yt" x="-8" y="6.4">0</text><text class="yt" x="-8" y="60.9">20</text><text class="yt" x="-8" y="115.5">40</text><text class="xt" x="1.4" y="156.5">0</text><text class="xt" x="55.6" y="156.5">20</text><text class="xt" x="109.8" y="156.5">40</text><text class="tt" x="67.8" y="-8">845924</text></g>
<g transform="translate(3245.3,260.8)"><g filter="url(#nS)"><rect width="135.5" height="136.5" fill="#989898"/><circle cx="68" cy="70" r="10" class="d" opacity=".5"/></g><rect class="rd" width="135.5" height="136.5"/><use href="#tks"/><text class="yt" x="-8" y="6.4">0</text><text class="yt" x="-8" y="60.9">20</text><text class="yt" x="-8" y="115.5">40</text><text class="xt" x="1.4" y="156.5">0</text><text class="xt" x="55.6" y="156.5">20</text><text class="xt" x="109.8" y="156.5">40</text><text class="tt" x="67.8" y="-8">845925</text></g>
<g transform="translate(3444.1,260.8)"><g filter="url(#nS)"><rect width="135.5" height="136.5" fill="#7d7d7d"/><circle cx="66" cy="68" r="12" class="d" opacity=".6"/></g><rect class="rd" width="135.5" height="136.5"/><use href="#tks"/><text class="yt" x="-8" y="6.4">0</text><text class="yt" x="-8" y="60.9">20</text><text class="yt" x="-8" y="115.5">40</text><text class="xt" x="1.4" y="156.5">0</text><text class="xt" x="55.6" y="156.5">20</text><text class="xt" x="109.8" y="156.5">40</text><text class="tt" x="67.8" y="-8">845926</text></g>

<!-- row 2 -->
<g transform="translate(1853.7,455.8)"><g filter="url(#nS)"><rect width="135.5" height="136.5" fill="#8f8f8f"/><circle cx="72" cy="70" r="9" class="d" opacity=".5"/></g><rect class="rd" width="135.5" height="136.5"/><use href="#tks"/><text class="yt" x="-8" y="6.4">0</text><text class="yt" x="-8" y="60.9">20</text><text class="yt" x="-8" y="115.5">40</text><text class="xt" x="1.4" y="156.5">0</text><text class="xt" x="55.6" y="156.5">20</text><text class="xt" x="109.8" y="156.5">40</text><text class="tt" x="67.8" y="-8">845927</text></g>
<g transform="translate(2052.5,455.8)"><g filter="url(#nS)"><rect width="135.5" height="136.5" fill="#777777"/><circle cx="70" cy="67" r="9" class="d" opacity=".6"/><circle cx="55" cy="5" r="8" class="d" opacity=".6"/></g><rect class="rd" width="135.5" height="136.5"/><use href="#tks"/><text class="yt" x="-8" y="6.4">0</text><text class="yt" x="-8" y="60.9">20</text><text class="yt" x="-8" y="115.5">40</text><text class="xt" x="1.4" y="156.5">0</text><text class="xt" x="55.6" y="156.5">20</text><text class="xt" x="109.8" y="156.5">40</text><text class="tt" x="67.8" y="-8">845928</text></g>
<g transform="translate(2251.3,455.8)"><g filter="url(#nW)"><rect width="135.5" height="136.5" fill="#969696"/><circle cx="38" cy="8" r="10" class="l"/><circle cx="43" cy="4" r="6" class="d"/><circle cx="68" cy="70" r="8" class="d" opacity=".4"/></g><rect class="rd" width="135.5" height="136.5"/><use href="#tks"/><text class="yt" x="-8" y="6.4">0</text><text class="yt" x="-8" y="60.9">20</text><text class="yt" x="-8" y="115.5">40</text><text class="xt" x="1.4" y="156.5">0</text><text class="xt" x="55.6" y="156.5">20</text><text class="xt" x="109.8" y="156.5">40</text><text class="tt" x="67.8" y="-8">845929</text></g>
<g transform="translate(2450.1,455.8)"><g filter="url(#nW)"><rect width="135.5" height="136.5" fill="#adadad"/><circle cx="47" cy="12" r="9" class="l"/><circle cx="48" cy="4" r="5" class="d"/></g><rect class="rd" width="135.5" height="136.5"/><use href="#tks"/><text class="yt" x="-8" y="6.4">0</text><text class="yt" x="-8" y="60.9">20</text><text class="yt" x="-8" y="115.5">40</text><text class="xt" x="1.4" y="156.5">0</text><text class="xt" x="55.6" y="156.5">20</text><text class="xt" x="109.8" y="156.5">40</text><text class="tt" x="67.8" y="-8">845930</text></g>
<g transform="translate(2648.9,455.8)"><g filter="url(#nW)"><rect width="135.5" height="136.5" fill="#4a4a4a"/><circle cx="135" cy="8" r="42" class="l" opacity=".4"/><circle cx="130" cy="10" r="12" class="l"/></g><rect class="rd" width="135.5" height="136.5"/><use href="#tks"/><text class="yt" x="-8" y="6.4">0</text><text class="yt" x="-8" y="60.9">20</text><text class="yt" x="-8" y="115.5">40</text><text class="xt" x="1.4" y="156.5">0</text><text class="xt" x="55.6" y="156.5">20</text><text class="xt" x="109.8" y="156.5">40</text><text class="tt" x="67.8" y="-8">845931</text></g>
<g transform="translate(2847.7,455.8)"><g filter="url(#nW)"><rect width="135.5" height="136.5" fill="#8a8a8a"/><circle cx="52" cy="28" r="8" class="d"/><circle cx="65" cy="28" r="8" class="l"/></g><rect class="rd" width="135.5" height="136.5"/><use href="#tks"/><text class="yt" x="-8" y="6.4">0</text><text class="yt" x="-8" y="60.9">20</text><text class="yt" x="-8" y="115.5">40</text><text class="xt" x="1.4" y="156.5">0</text><text class="xt" x="55.6" y="156.5">20</text><text class="xt" x="109.8" y="156.5">40</text><text class="tt" x="67.8" y="-8">845932</text></g>
<g transform="translate(3046.5,455.8)"><g filter="url(#nW)"><rect width="135.5" height="136.5" fill="#979797"/><circle cx="63" cy="30" r="10" class="l"/><circle cx="63" cy="30" r="4" class="d"/></g><rect class="rd" width="135.5" height="136.5"/><use href="#tks"/><text class="yt" x="-8" y="6.4">0</text><text class="yt" x="-8" y="60.9">20</text><text class="yt" x="-8" y="115.5">40</text><text class="xt" x="1.4" y="156.5">0</text><text class="xt" x="55.6" y="156.5">20</text><text class="xt" x="109.8" y="156.5">40</text><text class="tt" x="67.8" y="-8">845933</text></g>
<g transform="translate(3245.3,455.8)"><g filter="url(#nW)"><rect width="135.5" height="136.5" fill="#919191"/><circle cx="63" cy="35" r="9" class="l"/><circle cx="68" cy="37" r="5" class="d"/></g><rect class="rd" width="135.5" height="136.5"/><use href="#tks"/><text class="yt" x="-8" y="6.4">0</text><text class="yt" x="-8" y="60.9">20</text><text class="yt" x="-8" y="115.5">40</text><text class="xt" x="1.4" y="156.5">0</text><text class="xt" x="55.6" y="156.5">20</text><text class="xt" x="109.8" y="156.5">40</text><text class="tt" x="67.8" y="-8">845934</text></g>
<g transform="translate(3444.1,455.8)"><g filter="url(#nW)"><rect width="135.5" height="136.5" fill="#767676"/><circle cx="70" cy="37" r="7" class="l"/><circle cx="73" cy="42" r="6" class="d"/></g><rect class="bk" width="135.5" height="136.5"/><use href="#tks"/><text class="yt" x="-8" y="6.4">0</text><text class="yt" x="-8" y="60.9">20</text><text class="yt" x="-8" y="115.5">40</text><text class="xt" x="1.4" y="156.5">0</text><text class="xt" x="55.6" y="156.5">20</text><text class="xt" x="109.8" y="156.5">40</text><text class="tt" x="67.8" y="-8">845935</text></g>

<!-- row 3 -->
<g transform="translate(1853.7,650.8)"><g filter="url(#nW)"><rect width="135.5" height="136.5" fill="#9d9d9d"/><circle cx="76" cy="48" r="8" class="l"/><circle cx="82" cy="51" r="6" class="d"/></g><rect class="bk" width="135.5" height="136.5"/><use href="#tks"/><text class="yt" x="-8" y="6.4">0</text><text class="yt" x="-8" y="60.9">20</text><text class="yt" x="-8" y="115.5">40</text><text class="xt" x="1.4" y="156.5">0</text><text class="xt" x="55.6" y="156.5">20</text><text class="xt" x="109.8" y="156.5">40</text><text class="tt" x="67.8" y="-8">845936</text></g>
<g transform="translate(2052.5,650.8)"><g filter="url(#nS)"><rect width="135.5" height="136.5" fill="#757575"/><circle cx="78" cy="49" r="7" class="l"/><circle cx="80" cy="58" r="8" class="d"/></g><rect class="rd" width="135.5" height="136.5"/><use href="#tks"/><text class="yt" x="-8" y="6.4">0</text><text class="yt" x="-8" y="60.9">20</text><text class="yt" x="-8" y="115.5">40</text><text class="xt" x="1.4" y="156.5">0</text><text class="xt" x="55.6" y="156.5">20</text><text class="xt" x="109.8" y="156.5">40</text><text class="tt" x="67.8" y="-8">845937</text></g>
<g transform="translate(2251.3,650.8)"><g filter="url(#nW)"><rect width="135.5" height="136.5" fill="#bababa"/><circle cx="86" cy="58" r="8" class="l"/><circle cx="89" cy="58" r="6" class="d"/></g><rect class="bk" width="135.5" height="136.5"/><use href="#tks"/><text class="yt" x="-8" y="6.4">0</text><text class="yt" x="-8" y="60.9">20</text><text class="yt" x="-8" y="115.5">40</text><text class="xt" x="1.4" y="156.5">0</text><text class="xt" x="55.6" y="156.5">20</text><text class="xt" x="109.8" y="156.5">40</text><text class="tt" x="67.8" y="-8">845938</text></g>
<g transform="translate(2450.1,650.8)"><g filter="url(#nS)"><rect width="135.5" height="136.5" fill="#636363"/><circle cx="95" cy="57" r="7" class="d"/><circle cx="85" cy="70" r="9" class="l"/></g><rect class="bk" width="135.5" height="136.5"/><use href="#tks"/><text class="yt" x="-8" y="6.4">0</text><text class="yt" x="-8" y="60.9">20</text><text class="yt" x="-8" y="115.5">40</text><text class="xt" x="1.4" y="156.5">0</text><text class="xt" x="55.6" y="156.5">20</text><text class="xt" x="109.8" y="156.5">40</text><text class="tt" x="67.8" y="-8">845939</text></g>
<g transform="translate(2648.9,650.8)"><g filter="url(#nW)"><rect width="135.5" height="136.5" fill="#838383"/><circle cx="90" cy="68" r="6" class="l"/><circle cx="90" cy="72" r="7" class="d"/></g><rect class="rd" width="135.5" height="136.5"/><use href="#tks"/><text class="yt" x="-8" y="6.4">0</text><text class="yt" x="-8" y="60.9">20</text><text class="yt" x="-8" y="115.5">40</text><text class="xt" x="1.4" y="156.5">0</text><text class="xt" x="55.6" y="156.5">20</text><text class="xt" x="109.8" y="156.5">40</text><text class="tt" x="67.8" y="-8">845940</text></g>
<g transform="translate(2847.7,650.8)"><g filter="url(#nW)"><rect width="135.5" height="136.5" fill="#979797"/><circle cx="102" cy="86" r="8" class="d"/><circle cx="112" cy="82" r="8" class="l"/></g><rect class="rd" width="135.5" height="136.5"/><use href="#tks"/><text class="yt" x="-8" y="6.4">0</text><text class="yt" x="-8" y="60.9">20</text><text class="yt" x="-8" y="115.5">40</text><text class="xt" x="1.4" y="156.5">0</text><text class="xt" x="55.6" y="156.5">20</text><text class="xt" x="109.8" y="156.5">40</text><text class="tt" x="67.8" y="-8">845941</text></g>
<g transform="translate(3046.5,650.8)"><g filter="url(#nW)"><rect width="135.5" height="136.5" fill="#474747"/><circle cx="112" cy="92" r="9" class="l"/><circle cx="108" cy="88" r="8" class="d"/></g><rect class="rd" width="135.5" height="136.5"/><use href="#tks"/><text class="yt" x="-8" y="6.4">0</text><text class="yt" x="-8" y="60.9">20</text><text class="yt" x="-8" y="115.5">40</text><text class="xt" x="1.4" y="156.5">0</text><text class="xt" x="55.6" y="156.5">20</text><text class="xt" x="109.8" y="156.5">40</text><text class="tt" x="67.8" y="-8">845942</text></g>
<g transform="translate(3245.3,650.8)"><g filter="url(#nW)"><rect width="135.5" height="136.5" fill="#b0b0b0"/><circle cx="108" cy="98" r="7" class="l"/><circle cx="115" cy="97" r="7" class="d"/></g><rect class="rd" width="135.5" height="136.5"/><use href="#tks"/><text class="yt" x="-8" y="6.4">0</text><text class="yt" x="-8" y="60.9">20</text><text class="yt" x="-8" y="115.5">40</text><text class="xt" x="1.4" y="156.5">0</text><text class="xt" x="55.6" y="156.5">20</text><text class="xt" x="109.8" y="156.5">40</text><text class="tt" x="67.8" y="-8">845943</text></g>
<g transform="translate(3444.1,650.8)"><g filter="url(#nW)"><rect width="135.5" height="136.5" fill="#afafaf"/><circle cx="120" cy="118" r="6" class="l"/><circle cx="122" cy="112" r="7" class="d"/></g><rect class="rd" width="135.5" height="136.5"/><use href="#tks"/><text class="yt" x="-8" y="6.4">0</text><text class="yt" x="-8" y="60.9">20</text><text class="yt" x="-8" y="115.5">40</text><text class="xt" x="1.4" y="156.5">0</text><text class="xt" x="55.6" y="156.5">20</text><text class="xt" x="109.8" y="156.5">40</text><text class="tt" x="67.8" y="-8">845944</text></g>

<!-- row 4 -->
<g transform="translate(1853.7,845.8)"><g filter="url(#nW)"><rect width="135.5" height="136.5" fill="#878787"/><circle cx="120" cy="122" r="9" class="l"/><circle cx="125" cy="129" r="8" class="d"/></g><rect class="rd" width="135.5" height="136.5"/><use href="#tks"/><text class="yt" x="-8" y="6.4">0</text><text class="yt" x="-8" y="60.9">20</text><text class="yt" x="-8" y="115.5">40</text><text class="xt" x="1.4" y="156.5">0</text><text class="xt" x="55.6" y="156.5">20</text><text class="xt" x="109.8" y="156.5">40</text><text class="tt" x="67.8" y="-8">845945</text></g>
<g transform="translate(2052.5,845.8)"><g filter="url(#nS)"><rect width="135.5" height="136.5" fill="#8f8f8f"/><circle cx="70" cy="68" r="9" class="d" opacity=".6"/><circle cx="133" cy="134" r="5" class="l"/></g><rect class="rd" width="135.5" height="136.5"/><use href="#tks"/><text class="yt" x="-8" y="6.4">0</text><text class="yt" x="-8" y="60.9">20</text><text class="yt" x="-8" y="115.5">40</text><text class="xt" x="1.4" y="156.5">0</text><text class="xt" x="55.6" y="156.5">20</text><text class="xt" x="109.8" y="156.5">40</text><text class="tt" x="67.8" y="-8">845946</text></g>
<g transform="translate(2251.3,845.8)"><g filter="url(#nS)"><rect width="135.5" height="136.5" fill="#5b5b5b"/><circle cx="72" cy="62" r="10" class="d" opacity=".6"/></g><rect class="rd" width="135.5" height="136.5"/><use href="#tks"/><text class="yt" x="-8" y="6.4">0</text><text class="yt" x="-8" y="60.9">20</text><text class="yt" x="-8" y="115.5">40</text><text class="xt" x="1.4" y="156.5">0</text><text class="xt" x="55.6" y="156.5">20</text><text class="xt" x="109.8" y="156.5">40</text><text class="tt" x="67.8" y="-8">845947</text></g>
<g transform="translate(2450.1,845.8)"><g filter="url(#nS)"><rect width="135.5" height="136.5" fill="#797979"/><circle cx="73" cy="62" r="10" class="d" opacity=".6"/></g><rect class="rd" width="135.5" height="136.5"/><use href="#tks"/><text class="yt" x="-8" y="6.4">0</text><text class="yt" x="-8" y="60.9">20</text><text class="yt" x="-8" y="115.5">40</text><text class="xt" x="1.4" y="156.5">0</text><text class="xt" x="55.6" y="156.5">20</text><text class="xt" x="109.8" y="156.5">40</text><text class="tt" x="67.8" y="-8">845948</text></g>
<g transform="translate(2648.9,845.8)"><g filter="url(#nS)"><rect width="135.5" height="136.5" fill="#949494"/><circle cx="70" cy="67" r="9" class="d" opacity=".6"/></g><rect class="rd" width="135.5" height="136.5"/><use href="#tks"/><text class="yt" x="-8" y="6.4">0</text><text class="yt" x="-8" y="60.9">20</text><text class="yt" x="-8" y="115.5">40</text><text class="xt" x="1.4" y="156.5">0</text><text class="xt" x="55.6" y="156.5">20</text><text class="xt" x="109.8" y="156.5">40</text><text class="tt" x="67.8" y="-8">845949</text></g>
<g transform="translate(2847.7,845.8)"><g filter="url(#nS)"><rect width="135.5" height="136.5" fill="#848484"/><circle cx="70" cy="63" r="9" class="d" opacity=".6"/></g><rect class="rd" width="135.5" height="136.5"/><use href="#tks"/><text class="yt" x="-8" y="6.4">0</text><text class="yt" x="-8" y="60.9">20</text><text class="yt" x="-8" y="115.5">40</text><text class="xt" x="1.4" y="156.5">0</text><text class="xt" x="55.6" y="156.5">20</text><text class="xt" x="109.8" y="156.5">40</text><text class="tt" x="67.8" y="-8">845950</text></g>
<g transform="translate(3046.5,845.8)"><g filter="url(#nS)"><rect width="135.5" height="136.5" fill="#939393"/><circle cx="70" cy="64" r="9" class="d" opacity=".5"/></g><rect class="rd" width="135.5" height="136.5"/><use href="#tks"/><text class="yt" x="-8" y="6.4">0</text><text class="yt" x="-8" y="60.9">20</text><text class="yt" x="-8" y="115.5">40</text><text class="xt" x="1.4" y="156.5">0</text><text class="xt" x="55.6" y="156.5">20</text><text class="xt" x="109.8" y="156.5">40</text><text class="tt" x="67.8" y="-8">845951</text></g>
<g transform="translate(3245.3,845.8)"><g filter="url(#nS)"><rect width="135.5" height="136.5" fill="#959595"/><circle cx="70" cy="64" r="8" class="d" opacity=".4"/></g><rect class="rd" width="135.5" height="136.5"/><use href="#tks"/><text class="yt" x="-8" y="6.4">0</text><text class="yt" x="-8" y="60.9">20</text><text class="yt" x="-8" y="115.5">40</text><text class="xt" x="1.4" y="156.5">0</text><text class="xt" x="55.6" y="156.5">20</text><text class="xt" x="109.8" y="156.5">40</text><text class="tt" x="67.8" y="-8">845952</text></g>
<g transform="translate(3444.1,845.8)"><g filter="url(#nS)"><rect width="135.5" height="136.5" fill="#636363"/><circle cx="70" cy="62" r="12" class="d" opacity=".5"/></g><rect class="rd" width="135.5" height="136.5"/><use href="#tks"/><text class="yt" x="-8" y="6.4">0</text><text class="yt" x="-8" y="60.9">20</text><text class="yt" x="-8" y="115.5">40</text><text class="xt" x="1.4" y="156.5">0</text><text class="xt" x="55.6" y="156.5">20</text><text class="xt" x="109.8" y="156.5">40</text><text class="tt" x="67.8" y="-8">845953</text></g>

<!-- row 5 -->
<g transform="translate(1853.7,1040.8)"><g filter="url(#nS)"><rect width="135.5" height="136.5" fill="#7b7b7b"/><circle cx="65" cy="62" r="8" class="d" opacity=".4"/></g><rect class="bk" width="135.5" height="136.5"/><use href="#tks"/><text class="yt" x="-8" y="6.4">0</text><text class="yt" x="-8" y="60.9">20</text><text class="yt" x="-8" y="115.5">40</text><text class="xt" x="1.4" y="156.5">0</text><text class="xt" x="55.6" y="156.5">20</text><text class="xt" x="109.8" y="156.5">40</text><text class="tt" x="67.8" y="-8">845954</text></g>
<g transform="translate(2052.5,1040.8)"><g filter="url(#nS)"><rect width="135.5" height="136.5" fill="#848484"/><circle cx="36" cy="6" r="9" class="d" opacity=".8"/><circle cx="70" cy="70" r="7" class="d" opacity=".4"/></g><rect class="rd" width="135.5" height="136.5"/><use href="#tks"/><text class="yt" x="-8" y="6.4">0</text><text class="yt" x="-8" y="60.9">20</text><text class="yt" x="-8" y="115.5">40</text><text class="xt" x="1.4" y="156.5">0</text><text class="xt" x="55.6" y="156.5">20</text><text class="xt" x="109.8" y="156.5">40</text><text class="tt" x="67.8" y="-8">845955</text></g>
<g transform="translate(2251.3,1040.8)"><g filter="url(#nW)"><rect width="135.5" height="136.5" fill="#c4c4c4"/><circle cx="36" cy="5" r="7" class="d" opacity=".9"/></g><rect class="rd" width="135.5" height="136.5"/><use href="#tks"/><text class="yt" x="-8" y="6.4">0</text><text class="yt" x="-8" y="60.9">20</text><text class="yt" x="-8" y="115.5">40</text><text class="xt" x="1.4" y="156.5">0</text><text class="xt" x="55.6" y="156.5">20</text><text class="xt" x="109.8" y="156.5">40</text><text class="tt" x="67.8" y="-8">845956</text></g>
<g transform="translate(2450.1,1040.8)"><g filter="url(#nW)"><rect width="135.5" height="136.5" fill="#b9b9b9"/><circle cx="42" cy="14" r="7" class="l"/><circle cx="40" cy="5" r="7" class="d" opacity=".9"/></g><rect class="rd" width="135.5" height="136.5"/><use href="#tks"/><text class="yt" x="-8" y="6.4">0</text><text class="yt" x="-8" y="60.9">20</text><text class="yt" x="-8" y="115.5">40</text><text class="xt" x="1.4" y="156.5">0</text><text class="xt" x="55.6" y="156.5">20</text><text class="xt" x="109.8" y="156.5">40</text><text class="tt" x="67.8" y="-8">845957</text></g>
<g transform="translate(2648.9,1040.8)"><g filter="url(#nW)"><rect width="135.5" height="136.5" fill="#aaaaaa"/><circle cx="45" cy="18" r="12" class="l"/><circle cx="48" cy="14" r="5" class="d"/></g><rect class="rd" width="135.5" height="136.5"/><use href="#tks"/><text class="yt" x="-8" y="6.4">0</text><text class="yt" x="-8" y="60.9">20</text><text class="yt" x="-8" y="115.5">40</text><text class="xt" x="1.4" y="156.5">0</text><text class="xt" x="55.6" y="156.5">20</text><text class="xt" x="109.8" y="156.5">40</text><text class="tt" x="67.8" y="-8">845958</text></g>
<g transform="translate(2847.7,1040.8)"><g filter="url(#nW)"><rect width="135.5" height="136.5" fill="#b7b7b7"/><circle cx="52" cy="20" r="9" class="l"/><circle cx="52" cy="20" r="5" class="d"/></g><rect class="rd" width="135.5" height="136.5"/><use href="#tks"/><text class="yt" x="-8" y="6.4">0</text><text class="yt" x="-8" y="60.9">20</text><text class="yt" x="-8" y="115.5">40</text><text class="xt" x="1.4" y="156.5">0</text><text class="xt" x="55.6" y="156.5">20</text><text class="xt" x="109.8" y="156.5">40</text><text class="tt" x="67.8" y="-8">845959</text></g>
<g transform="translate(3046.5,1040.8)"><g filter="url(#nW)"><rect width="135.5" height="136.5" fill="#747474"/><circle cx="58" cy="30" r="8" class="l"/><circle cx="62" cy="25" r="7" class="d"/></g><rect class="rd" width="135.5" height="136.5"/><use href="#tks"/><text class="yt" x="-8" y="6.4">0</text><text class="yt" x="-8" y="60.9">20</text><text class="yt" x="-8" y="115.5">40</text><text class="xt" x="1.4" y="156.5">0</text><text class="xt" x="55.6" y="156.5">20</text><text class="xt" x="109.8" y="156.5">40</text><text class="tt" x="67.8" y="-8">845960</text></g>
<g transform="translate(3245.3,1040.8)"><g filter="url(#nW)"><rect width="135.5" height="136.5" fill="#aaaaaa"/><circle cx="62" cy="35" r="7" class="d"/><circle cx="68" cy="40" r="8" class="l"/></g><rect class="rd" width="135.5" height="136.5"/><use href="#tks"/><text class="yt" x="-8" y="6.4">0</text><text class="yt" x="-8" y="60.9">20</text><text class="yt" x="-8" y="115.5">40</text><text class="xt" x="1.4" y="156.5">0</text><text class="xt" x="55.6" y="156.5">20</text><text class="xt" x="109.8" y="156.5">40</text><text class="tt" x="67.8" y="-8">845961</text></g>
<g transform="translate(3444.1,1040.8)"><g filter="url(#nW)"><rect width="135.5" height="136.5" fill="#8f8f8f"/><circle cx="78" cy="44" r="9" class="l"/><circle cx="68" cy="46" r="7" class="d"/></g><rect class="rd" width="135.5" height="136.5"/><use href="#tks"/><text class="yt" x="-8" y="6.4">0</text><text class="yt" x="-8" y="60.9">20</text><text class="yt" x="-8" y="115.5">40</text><text class="xt" x="1.4" y="156.5">0</text><text class="xt" x="55.6" y="156.5">20</text><text class="xt" x="109.8" y="156.5">40</text><text class="tt" x="67.8" y="-8">845962</text></g>

<!-- row 6 -->
<g transform="translate(1853.7,1235.8)"><g filter="url(#nS)"><rect width="135.5" height="136.5" fill="#767676"/><circle cx="72" cy="49" r="12" class="l"/><circle cx="76" cy="60" r="8" class="d"/></g><rect class="bk" width="135.5" height="136.5"/><use href="#tks"/><text class="yt" x="-8" y="6.4">0</text><text class="yt" x="-8" y="60.9">20</text><text class="yt" x="-8" y="115.5">40</text><text class="xt" x="1.4" y="156.5">0</text><text class="xt" x="55.6" y="156.5">20</text><text class="xt" x="109.8" y="156.5">40</text><text class="tt" x="67.8" y="-8">845963</text></g>
<g transform="translate(2052.5,1235.8)"><g filter="url(#nS)"><rect width="135.5" height="136.5" fill="#7e7e7e"/><circle cx="80" cy="55" r="8" class="l"/><circle cx="82" cy="62" r="7" class="d"/></g><rect class="rd" width="135.5" height="136.5"/><use href="#tks"/><text class="yt" x="-8" y="6.4">0</text><text class="yt" x="-8" y="60.9">20</text><text class="yt" x="-8" y="115.5">40</text><text class="xt" x="1.4" y="156.5">0</text><text class="xt" x="55.6" y="156.5">20</text><text class="xt" x="109.8" y="156.5">40</text><text class="tt" x="67.8" y="-8">845964</text></g>
<g transform="translate(2251.3,1235.8)"><g filter="url(#nW)"><rect width="135.5" height="136.5" fill="#4d4d4d"/><circle cx="90" cy="68" r="9" class="l"/><circle cx="87" cy="74" r="8" class="d"/></g><rect class="rd" width="135.5" height="136.5"/><use href="#tks"/><text class="yt" x="-8" y="6.4">0</text><text class="yt" x="-8" y="60.9">20</text><text class="yt" x="-8" y="115.5">40</text><text class="xt" x="1.4" y="156.5">0</text><text class="xt" x="55.6" y="156.5">20</text><text class="xt" x="109.8" y="156.5">40</text><text class="tt" x="67.8" y="-8">845965</text></g>
<g transform="translate(2450.1,1235.8)"><g filter="url(#nW)"><rect width="135.5" height="136.5" fill="#9a9a9a"/><circle cx="96" cy="75" r="12" class="l"/><circle cx="99" cy="82" r="8" class="d"/></g><rect class="bk" width="135.5" height="136.5"/><use href="#tks"/><text class="yt" x="-8" y="6.4">0</text><text class="yt" x="-8" y="60.9">20</text><text class="yt" x="-8" y="115.5">40</text><text class="xt" x="1.4" y="156.5">0</text><text class="xt" x="55.6" y="156.5">20</text><text class="xt" x="109.8" y="156.5">40</text><text class="tt" x="67.8" y="-8">845966</text></g>
<g transform="translate(2648.9,1235.8)"><g filter="url(#nS)"><rect width="135.5" height="136.5" fill="#a5a5a5"/><circle cx="105" cy="88" r="12" class="l" opacity=".6"/><circle cx="99" cy="95" r="7" class="d"/></g><rect class="bk" width="135.5" height="136.5"/><use href="#tks"/><text class="yt" x="-8" y="6.4">0</text><text class="yt" x="-8" y="60.9">20</text><text class="yt" x="-8" y="115.5">40</text><text class="xt" x="1.4" y="156.5">0</text><text class="xt" x="55.6" y="156.5">20</text><text class="xt" x="109.8" y="156.5">40</text><text class="tt" x="67.8" y="-8">845967</text></g>
<g transform="translate(2847.7,1235.8)"><g filter="url(#nS)"><rect width="135.5" height="136.5" fill="#606060"/><circle cx="100" cy="108" r="10" class="l"/><circle cx="103" cy="98" r="7" class="d"/></g><rect class="rd" width="135.5" height="136.5"/><use href="#tks"/><text class="yt" x="-8" y="6.4">0</text><text class="yt" x="-8" y="60.9">20</text><text class="yt" x="-8" y="115.5">40</text><text class="xt" x="1.4" y="156.5">0</text><text class="xt" x="55.6" y="156.5">20</text><text class="xt" x="109.8" y="156.5">40</text><text class="tt" x="67.8" y="-8">845968</text></g>
<g transform="translate(3046.5,1235.8)"><g filter="url(#nS)"><rect width="135.5" height="136.5" fill="#949494"/><circle cx="110" cy="112" r="10" class="l"/><circle cx="115" cy="105" r="7" class="d"/></g><rect class="rd" width="135.5" height="136.5"/><use href="#tks"/><text class="yt" x="-8" y="6.4">0</text><text class="yt" x="-8" y="60.9">20</text><text class="yt" x="-8" y="115.5">40</text><text class="xt" x="1.4" y="156.5">0</text><text class="xt" x="55.6" y="156.5">20</text><text class="xt" x="109.8" y="156.5">40</text><text class="tt" x="67.8" y="-8">845969</text></g>
<g transform="translate(3245.3,1235.8)"><g filter="url(#nW)"><rect width="135.5" height="136.5" fill="#5d5d5d"/><circle cx="120" cy="103" r="11" class="d"/><circle cx="112" cy="112" r="8" class="l"/></g><rect class="rd" width="135.5" height="136.5"/><use href="#tks"/><text class="yt" x="-8" y="6.4">0</text><text class="yt" x="-8" y="60.9">20</text><text class="yt" x="-8" y="115.5">40</text><text class="xt" x="1.4" y="156.5">0</text><text class="xt" x="55.6" y="156.5">20</text><text class="xt" x="109.8" y="156.5">40</text><text class="tt" x="67.8" y="-8">845970</text></g>
<g transform="translate(3444.1,1235.8)"><g filter="url(#nW)"><rect width="135.5" height="136.5" fill="#a1a1a1"/><circle cx="115" cy="125" r="10" class="l"/><circle cx="125" cy="120" r="9" class="d"/></g><rect class="rd" width="135.5" height="136.5"/><use href="#tks"/><text class="yt" x="-8" y="6.4">0</text><text class="yt" x="-8" y="60.9">20</text><text class="yt" x="-8" y="115.5">40</text><text class="xt" x="1.4" y="156.5">0</text><text class="xt" x="55.6" y="156.5">20</text><text class="xt" x="109.8" y="156.5">40</text><text class="tt" x="67.8" y="-8">845971</text></g>

<!-- row 7 -->
<g transform="translate(1853.7,1430.8)"><g filter="url(#nW)"><rect width="135.5" height="136.5" fill="#6a6a6a"/><circle cx="125" cy="128" r="8" class="l"/><circle cx="132" cy="133" r="7" class="d"/></g><rect class="bk" width="135.5" height="136.5"/><use href="#tks"/><text class="yt" x="-8" y="6.4">0</text><text class="yt" x="-8" y="60.9">20</text><text class="yt" x="-8" y="115.5">40</text><text class="xt" x="1.4" y="156.5">0</text><text class="xt" x="55.6" y="156.5">20</text><text class="xt" x="109.8" y="156.5">40</text><text class="tt" x="67.8" y="-8">845972</text></g>
<g transform="translate(2052.5,1430.8)"><g filter="url(#nS)"><rect width="135.5" height="136.5" fill="#a3a3a3"/><circle cx="132" cy="134" r="6" class="d"/></g><rect class="rd" width="135.5" height="136.5"/><use href="#tks"/><text class="yt" x="-8" y="6.4">0</text><text class="yt" x="-8" y="60.9">20</text><text class="yt" x="-8" y="115.5">40</text><text class="xt" x="1.4" y="156.5">0</text><text class="xt" x="55.6" y="156.5">20</text><text class="xt" x="109.8" y="156.5">40</text><text class="tt" x="67.8" y="-8">845973</text></g>
<g transform="translate(2251.3,1430.8)"><g filter="url(#nS)"><rect width="135.5" height="136.5" fill="#707070"/><circle cx="68" cy="62" r="8" class="d" opacity=".3"/></g><rect class="bk" width="135.5" height="136.5"/><use href="#tks"/><text class="yt" x="-8" y="6.4">0</text><text class="yt" x="-8" y="60.9">20</text><text class="yt" x="-8" y="115.5">40</text><text class="xt" x="1.4" y="156.5">0</text><text class="xt" x="55.6" y="156.5">20</text><text class="xt" x="109.8" y="156.5">40</text><text class="tt" x="67.8" y="-8">845974</text></g>
<g transform="translate(2450.1,1430.8)"><g filter="url(#nS)"><rect width="135.5" height="136.5" fill="#787878"/><circle cx="68" cy="65" r="8" class="d" opacity=".4"/></g><rect class="rd" width="135.5" height="136.5"/><use href="#tks"/><text class="yt" x="-8" y="6.4">0</text><text class="yt" x="-8" y="60.9">20</text><text class="yt" x="-8" y="115.5">40</text><text class="xt" x="1.4" y="156.5">0</text><text class="xt" x="55.6" y="156.5">20</text><text class="xt" x="109.8" y="156.5">40</text><text class="tt" x="67.8" y="-8">845975</text></g>
</svg>
</body></html>
